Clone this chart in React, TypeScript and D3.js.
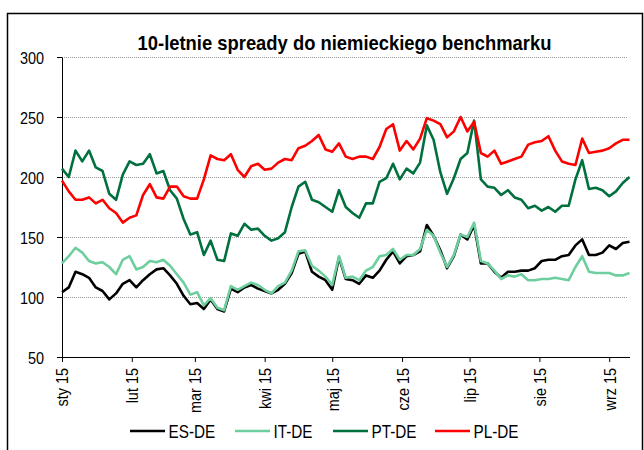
import { useEffect, useRef } from 'react';
import * as d3 from 'd3';

const chartTitle = '10-letnie spready do niemieckiego benchmarku';
const seriesNames = ['ES-DE', 'IT-DE', 'PT-DE', 'PL-DE'];
const seriesColors = ['#000000', '#6dcf9d', '#00703f', '#ff0000'];
const yTicks = [50, 100, 150, 200, 250, 300];
const monthLabels = ['sty 15', 'lut 15', 'mar 15', 'kwi 15', 'maj 15', 'cze 15', 'lip 15', 'sie 15', 'wrz 15'];

// observations every 3 days from 1 Jan 2015 to 10 Sep 2015
const firstDay = new Date(2015, 0, 1);
const lastDay = new Date(2015, 8, 10);
const stepDays = 3;

const esDe = [
  104, 108, 121, 119, 116, 108, 105, 98, 103, 111, 114, 108, 114, 119, 123, 124, 118, 111, 101, 94, 95,
  90, 98, 90, 88, 107, 104, 108, 110, 107, 105, 103, 106, 111, 120, 136, 138, 121, 117, 114,
  106, 133, 115, 114, 111, 118, 116, 122, 131, 138, 128, 134, 135, 138, 160, 151, 139, 124, 134,
  152, 148, 160, 128, 128, 121, 116, 121, 121, 122, 122, 124, 130, 131, 131, 134, 135, 143, 148, 135, 135, 137, 143, 140, 145, 146,
];
const itDe = [
  128, 134, 141, 137, 130, 128, 129, 125, 119, 131, 134, 123, 125, 130, 129, 131, 126, 119, 112, 102, 104,
  93, 99, 91, 89, 109, 106, 109, 112, 110, 106, 103, 109, 112, 122, 138, 139, 126, 122, 117,
  110, 134, 116, 117, 114, 122, 125, 134, 135, 140, 131, 135, 135, 140, 156, 151, 137, 125, 135,
  152, 150, 162, 130, 128, 122, 115, 118, 117, 119, 114, 114, 115, 115, 116, 115, 114, 125, 134, 121, 120, 120, 120, 118, 118, 120,
];
const ptDe = [
  207, 200, 222, 213, 222, 208, 205, 186, 181, 202, 213, 210, 211, 219, 203, 205, 189, 182, 165, 152, 154,
  135, 147, 131, 130, 153, 151, 161, 156, 157, 151, 147, 149, 154, 175, 192, 196, 181, 179, 175,
  171, 189, 175, 170, 166, 178, 178, 196, 199, 211, 198, 207, 203, 212, 243, 231, 204, 186, 199,
  215, 220, 247, 198, 192, 191, 185, 189, 183, 181, 174, 176, 172, 175, 171, 176, 176, 198, 214, 190, 191, 189, 184, 188, 195, 200,
];
const plDe = [
  197, 188, 181, 181, 183, 178, 181, 174, 170, 162, 166, 168, 185, 194, 183, 182, 192, 192, 184, 182, 182,
  198, 218, 215, 214, 219, 206, 200, 209, 211, 206, 207, 212, 215, 214, 224, 226, 230, 235, 223,
  221, 228, 217, 215, 217, 217, 215, 225, 240, 244, 222, 230, 223, 232, 249, 247, 244, 233, 238,
  250, 238, 246, 220, 217, 222, 211, 213, 215, 217, 227, 229, 230, 234, 222, 213, 211, 210, 232, 220, 221, 222, 224, 228, 231, 231,
];

const W = 644;
const H = 450;
const font = "'Liberation Sans', Arial, sans-serif";
const narrow = 0.85; // the source uses a condensed face

function drawChart(svgEl: SVGSVGElement) {
  const svg = d3.select(svgEl);
  svg.selectAll('*').remove();

  const left = 62, right = 629.5, top = 57, bottom = 357;

  const x = d3.scaleTime().domain([firstDay, lastDay]).range([left, right]);
  const y = d3.scaleLinear().domain([50, 300]).range([bottom, top]);

  // outer frame
  svg.append('rect')
    .attr('x', 7.5).attr('y', 13.5)
    .attr('width', 635).attr('height', 445)
    .attr('fill', 'white')
    .attr('stroke', '#000').attr('stroke-width', 1.5);

  svg.append('text')
    .attr('transform', 'translate(344.5,50) scale(0.92,1)')
    .attr('text-anchor', 'middle')
    .attr('font-family', font).attr('font-weight', 'bold').attr('font-size', 20)
    .text(chartTitle);

  // gridlines
  svg.append('g').selectAll('line')
    .data(yTicks.filter(d => d > 50))
    .join('line')
    .attr('x1', left).attr('x2', 628)
    .attr('y1', d => Math.round(y(d)) + 0.5).attr('y2', d => Math.round(y(d)) + 0.5)
    .attr('stroke', '#999').attr('stroke-width', 1).attr('stroke-dasharray', '1,1');

  // y axis
  const yAxis = svg.append('g').attr('transform', `translate(${left},0)`)
    .call(d3.axisLeft(y).tickValues(yTicks).tickSize(5).tickSizeOuter(0));
  yAxis.select('.domain').attr('stroke', '#000');
  yAxis.selectAll('.tick text')
    .attr('font-family', font).attr('font-size', 17).attr('fill', '#000')
    .attr('x', null).attr('dy', '0.36em')
    .attr('transform', `translate(-18,0) scale(${narrow},1)`);

  // x axis
  const months = d3.timeMonth.range(firstDay, lastDay);
  const xAxis = svg.append('g').attr('transform', `translate(0,${bottom})`)
    .call(d3.axisBottom(x).tickValues(months).tickSize(5).tickSizeOuter(0)
      .tickFormat((_, i) => monthLabels[i]));
  xAxis.select('.domain').attr('stroke', '#000');
  xAxis.selectAll('.tick text')
    .attr('font-family', font).attr('font-size', 17).attr('fill', '#000')
    .attr('text-anchor', 'end')
    .attr('transform', `rotate(-90) translate(-11,0) scale(${narrow},1)`)
    .attr('x', 0).attr('y', 0).attr('dy', '0.35em');

  const dates = esDe.map((_, i) => d3.timeDay.offset(firstDay, i * stepDays));
  const allSeries = [esDe, itDe, ptDe, plDe];
  const line = d3.line<number>()
    .x((_, i) => x(dates[i]))
    .y(d => y(d));

  svg.append('g').selectAll('path')
    .data(allSeries)
    .join('path')
    .attr('d', d => line(d))
    .attr('fill', 'none')
    .attr('stroke', (_, i) => seriesColors[i])
    .attr('stroke-width', 2.6)
    .attr('stroke-linejoin', 'round');

  // legend
  const legendX = [130, 235, 333, 435];
  const legend = svg.append('g').selectAll('g')
    .data(seriesNames)
    .join('g')
    .attr('transform', (_, i) => `translate(${legendX[i]},431)`);
  legend.append('line')
    .attr('x1', 0).attr('x2', 35).attr('y1', 0).attr('y2', 0)
    .attr('stroke', (_, i) => seriesColors[i]).attr('stroke-width', 2.6);
  legend.append('text')
    .attr('transform', `translate(38.5,6.5) scale(${narrow},1)`)
    .attr('font-family', font).attr('font-size', 18)
    .text(d => d);
}

export default function App() {
  const ref = useRef<SVGSVGElement>(null);

  useEffect(() => {
    if (ref.current) drawChart(ref.current);
  }, []);

  return (
    <svg ref={ref} width={W} height={H}
      style={{ position: 'absolute', left: 0, top: 0, background: 'white' }} />
  );
}
